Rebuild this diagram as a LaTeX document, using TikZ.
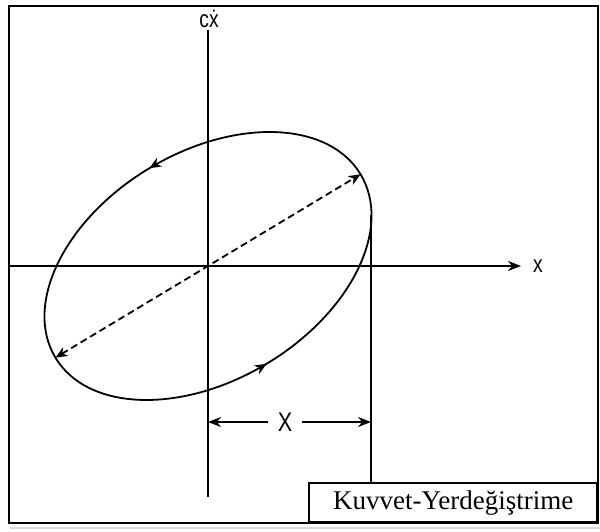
\documentclass[tikz,border=0pt]{standalone}
\usepackage{fontspec}
\setmainfont{Liberation Serif}
\newfontfamily\sansf{Liberation Sans}
\usetikzlibrary{arrows.meta,decorations.markings,calc}
\begin{document}
\begin{tikzpicture}[x=1pt,y=1pt,
  axis/.style={line width=1.9pt},
  curve/.style={line width=1.8pt},
  tip/.style={-{Stealth[length=13pt,width=10pt]}},
  lbl/.style={font=\sansf\fontsize{24}{24}\selectfont, inner sep=0pt},
  frame/.style={line width=2.4pt},
  flow/.style={postaction={decorate},decoration={markings,
      mark=at position 0.25 with {\arrow{Stealth[length=12pt,width=10pt]}},
      mark=at position 0.75 with {\arrow{Stealth[length=12pt,width=10pt]}}}}]
\useasboundingbox (0,0) rectangle (600,532);
\draw[gray!30, line width=1.5pt] (10,4) -- (600,4);
\draw[frame] (9,526) rectangle (598,9);
\coordinate (C) at (208,266);
% axes
\coordinate (vtop) at (208,502);
\coordinate (vbot) at (208,35);
\coordinate (hl) at (9,266);
\coordinate (rx) at (371,0);
\node[lbl] (xlab) at (538,266) {\scalebox{0.8}[1]{x}};
\node[lbl] (cxlab) at (209,513) {\scalebox{0.8}[1]{c\.{x}}};
\draw[axis] (vtop) -- (vbot);
\draw[axis,tip] (hl) -- ($(xlab.west)+(-12,0)$);
% ellipse
\begin{scope}[shift={(C)},rotate=31]
  \draw[curve,flow] (0,0) ellipse [x radius=178, y radius=114];
  \coordinate (A1) at (0:178 and 114);
  \coordinate (A2) at (180:178 and 114);
  \coordinate (T) at (-21:178 and 114);
\end{scope}
\draw[curve,dash pattern=on 7pt off 4pt,{Stealth[length=12pt,width=10pt]}-{Stealth[length=12pt,width=10pt]}] (A2) -- (A1);
% label box
\node[draw,line width=1.6pt,minimum width=288pt,minimum height=39pt,anchor=south east,inner sep=0pt,
  font=\fontsize{27}{27}\selectfont] (box) at (598,9) {Kuvvet-Yerdeğiştrime};
\draw[axis] (T -| rx) -- (rx |- box.north);
% dimension
\node[font=\sansf\fontsize{27}{27}\selectfont, inner sep=0pt] (X) at (285,110) {\scalebox{0.8}[1]{X}};
\draw[axis,tip] ($(X.west)+(-10,0)$) -- (vbot |- X);
\draw[axis,tip] ($(X.east)+(10,0)$) -- (rx |- X);
\end{tikzpicture}
\end{document}
